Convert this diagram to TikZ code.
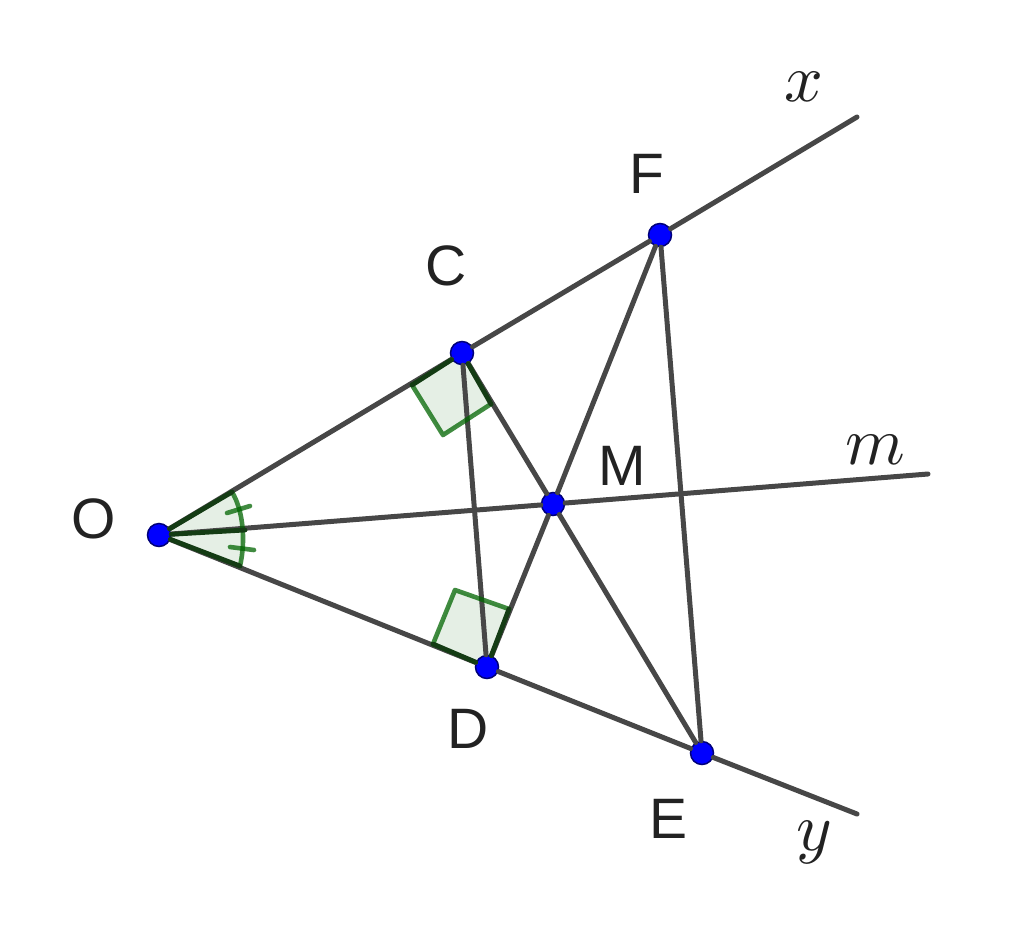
\documentclass[tikz,border=0pt]{standalone}
\usepackage{fontspec}
\setmainfont{Liberation Sans}
\definecolor{segcol}{HTML}{474747}
\definecolor{markcol}{HTML}{006400}
\definecolor{markdark}{HTML}{143C14}
\definecolor{ptfill}{HTML}{0000FF}
\definecolor{ptline}{HTML}{00007A}
\definecolor{txtcol}{HTML}{222222}
\tikzset{
  seg/.style={draw=segcol,line width=5pt,line cap=round},
  markfill/.style={fill=markcol,fill opacity=.1,draw=none},
  markedge/.style={draw=markcol,draw opacity=.75,line width=4.6pt,line cap=round,line join=round},
  darkedge/.style={draw=markdark,line width=4.8pt,line cap=round},
  pt/.style={circle,fill=ptfill,draw=ptline,line width=1.5pt,minimum size=23pt,inner sep=0pt},
  lab/.style={text=txtcol,font=\fontsize{57}{57}\selectfont,inner sep=0pt},
  mathlab/.style={text=txtcol,scale=6.8,inner sep=0pt}
}
\begin{document}
\begin{tikzpicture}[x=1pt,y=-1pt]
\useasboundingbox (0,0) rectangle (1024,932);
% free ends
\coordinate (xend) at (857,117);
\coordinate (yend) at (857,814);
\coordinate (mend) at (928,474);
% angle mark corners
\coordinate (aU) at (232,492);
\coordinate (aM) at (245,530);
\coordinate (aL) at (240,566);
\coordinate (t1a) at (227,513);
\coordinate (t1b) at (250,506);
\coordinate (t2a) at (230,547);
\coordinate (t2b) at (254,550);
% right-angle marks
\coordinate (c1) at (412,385);
\coordinate (c2) at (443,435);
\coordinate (c3) at (491,404);
\coordinate (d1) at (433,644);
\coordinate (d2) at (455,590);
\coordinate (d3) at (509,609);
% fills
\fill[markfill] (159,535) -- (aU) .. controls (243,510) and (246,540) .. (aL) -- cycle;
\fill[markfill] (462,353) -- (c1) -- (c2) -- (c3) -- cycle;
\fill[markfill] (487,667) -- (d1) -- (d2) -- (d3) -- cycle;
% points
\node[pt] (O) at (159,535) {};
\node[pt] (C) at (462,353) {};
\node[pt] (D) at (487,667) {};
\node[pt] (E) at (702,753) {};
\node[pt] (F) at (660,235) {};
\node[pt] (M) at (553,504) {};
% lines
\draw[seg] (O) -- (C);
\draw[seg] (C) -- (F);
\draw[seg] (F) -- (xend);
\draw[seg] (O) -- (D);
\draw[seg] (D) -- (E);
\draw[seg] (E) -- (yend);
\draw[seg] (O) -- (M);
\draw[seg] (M) -- (mend);
\draw[seg] (C) -- (M);
\draw[seg] (M) -- (E);
\draw[seg] (D) -- (M);
\draw[seg] (M) -- (F);
\draw[seg] (C) -- (D);
\draw[seg] (F) -- (E);
% angle marks
\draw[markedge] (aU) .. controls (243,510) and (246,540) .. (aL);
\draw[markedge] (t1a) -- (t1b);
\draw[markedge] (t2a) -- (t2b);
\draw[markedge] (c1) -- (c2) -- (c3);
\draw[markedge] (d1) -- (d2) -- (d3);
\draw[darkedge] (O) -- (aU);
\draw[darkedge] (O) -- (aM);
\draw[darkedge] (O) -- (aL);
\draw[darkedge] (C) -- (c1);
\draw[darkedge] (C) -- (c3);
\draw[darkedge] (D) -- (d1);
\draw[darkedge] (D) -- (d3);
% labels
\node[lab] (lO) at (94,519) {O};
\node[lab] (lC) at (446,266) {C};
\node[lab] (lD) at (468,729) {D};
\node[lab] (lE) at (668,819) {E};
\node[lab] (lF) at (647,174) {F};
\node[lab] (lM) at (622,466) {M};
\node[mathlab] (lx) at (804,87) {$x$};
\node[mathlab] (ly) at (814,842) {$y$};
\node[mathlab] (lm) at (875,450) {$m$};
\end{tikzpicture}
\end{document}
